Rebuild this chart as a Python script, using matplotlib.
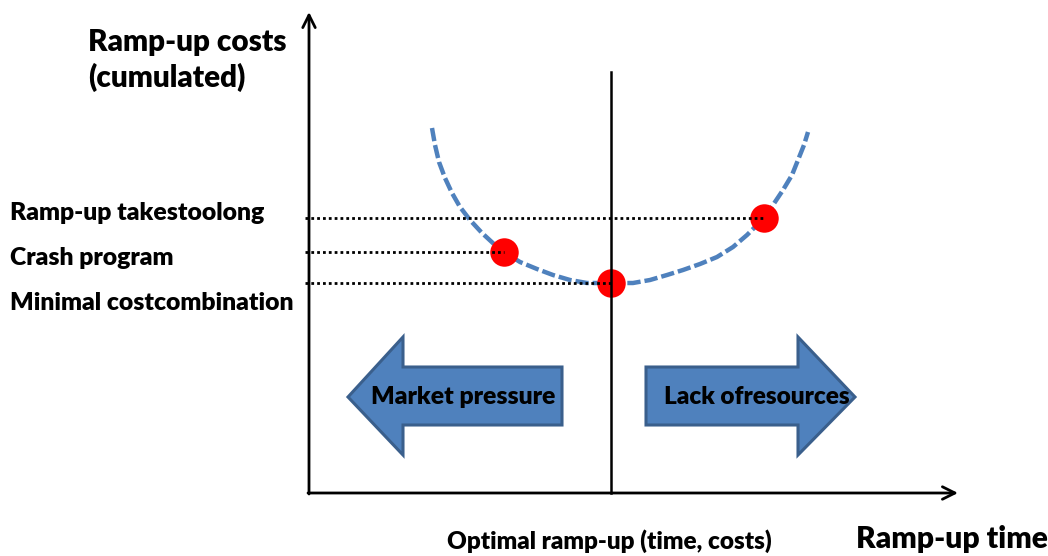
import matplotlib
matplotlib.use('Agg')
import matplotlib.pyplot as plt
from matplotlib.patches import Polygon

# cost curve, time measured from the origin of the axes
curve_time = [123, 126, 130, 136, 143, 151, 161, 173, 186, 195, 211, 228, 244, 261, 278,
              302, 324, 341, 358, 374, 391, 408, 424, 438, 455, 464, 474, 483, 489, 495, 499]
curve_cost = [365, 348, 331, 315, 300, 286, 273, 260, 248, 241, 231, 224, 218, 213, 210,
              210, 210, 213, 218, 223, 229, 236, 246, 258, 275, 288, 303, 318, 333, 348, 361]

# the three marked combinations
point_names = ['Ramp-up takestoolong', 'Crash program', 'Minimal costcombination']
point_time = [455, 195, 302]
point_cost = [275, 241, 210]

optimum_time = 302
blue = '#4F81BD'
blue_edge = '#3A5F8C'
font = 'Lato'

fig = plt.figure(figsize=(10.48, 5.56), dpi=100)
ax = fig.add_axes([0, 0, 1, 1])
ax.set_xlim(-309, 739)
ax.set_ylim(-63, 493)
ax.axis('off')

# axes with open arrow heads
arrow = dict(arrowstyle='->,head_length=0.9,head_width=0.45', color='black', lw=2.0,
             shrinkA=0, shrinkB=0)
ax.annotate('', xy=(0, 481), xytext=(0, -1), arrowprops=arrow)
ax.annotate('', xy=(649, 0), xytext=(-1, 0), arrowprops=arrow)

ax.plot(curve_time, curve_cost, color=blue, lw=3.2, linestyle=(0, (3.0, 0.9)),
        dash_capstyle='butt', zorder=3)
ax.plot(point_time, point_cost, 'o', color='#FF0000', markersize=20.5, zorder=4,
        markeredgewidth=0)

# optimum marker line
ax.plot([optimum_time, optimum_time], [0, 421], color='black', lw=1.8, zorder=5)

# dotted guides from the cost axis to each point
for t, c in zip(point_time, point_cost):
    ax.plot([-4, t], [c, c], color='black', lw=2.0, linestyle=(0, (1, 1.1)), zorder=5)

# block arrows
left = [(39, 96), (94, 156), (94, 126), (253, 126), (253, 68), (94, 68), (94, 38)]
right = [(546, 96), (489, 156), (489, 126), (337, 126), (337, 68), (489, 68), (489, 38)]
for pts in (left, right):
    ax.add_patch(Polygon(pts, closed=True, facecolor=blue, edgecolor=blue_edge,
                         lw=2.2, zorder=2))
ax.text(154, 96, 'Market pressure', ha='center', va='center', fontsize=17.8,
        fontweight='heavy', family=font, zorder=6)
ax.text(448, 96, 'Lack ofresources', ha='center', va='center', fontsize=17.6,
        fontweight='heavy', family=font, zorder=6)

# labels
ax.text(-221, 433, 'Ramp-up costs\n(cumulated)', ha='left', va='center',
        fontsize=21.3, fontweight='heavy', family=font, linespacing=1.3)
label_y = [280, 235, 190]
for name, y in zip(point_names, label_y):
    ax.text(-299, y, name, ha='left', va='center', fontsize=17.8,
            fontweight='heavy', family=font)
ax.text(300, -48, 'Optimal ramp-up (time, costs)', ha='center', va='center',
        fontsize=17.5, fontweight='heavy', family=font)
ax.text(643, -46, 'Ramp-up time', ha='center', va='center', fontsize=21.6,
        fontweight='heavy', family=font)

fig.savefig('out.png', dpi=100)
